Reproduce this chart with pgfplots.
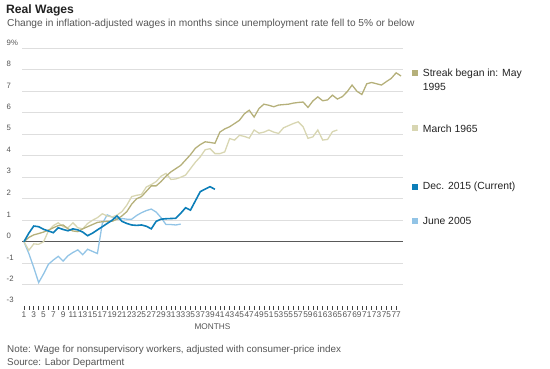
\documentclass[border=0pt]{standalone}
\usepackage{fontspec}
\setmainfont{Liberation Sans}
\usepackage{pgfplots}
\pgfplotsset{compat=1.18}
\definecolor{streak}{RGB}{181,176,122}
\definecolor{march}{RGB}{216,214,178}
\definecolor{decb}{RGB}{12,126,184}
\definecolor{june}{RGB}{146,196,230}
\definecolor{txt}{RGB}{85,85,85}
\definecolor{ttl}{RGB}{34,34,34}
\begin{document}
\begin{tikzpicture}[x=1bp,y=1bp]
\useasboundingbox (0,0) rectangle (550,368);
\node[anchor=base west, inner sep=0pt, text=ttl, font=\fontsize{12.2}{13}\selectfont\bfseries] at (6,354.5) {Real Wages};
\node[anchor=base west, inner sep=0pt, text=txt, font=\fontsize{10.2}{11}\selectfont] at (7,342) {Change in inflation-adjusted wages in months since unemployment rate fell to 5\% or below};
\begin{axis}[
  at={(22bp,61.8bp)}, anchor=south west,
  width=381bp, height=257.9bp, scale only axis,
  xmin=0.6, xmax=78.4, ymin=-3, ymax=9,
  axis line style={draw=none},
  clip=false,
  xtick={1,3,...,77}, minor xtick={2,4,...,76},
  xtick pos=bottom, tick align=outside,
  major tick length=3.5bp, minor tick length=3.5bp,
  x tick style={black!75, line width=0.6bp},
  minor x tick style={black!75, line width=0.6bp},
  xticklabel style={font=\fontsize{8.3}{8}\selectfont, text=txt, inner sep=0pt, yshift=-2bp},
  /pgf/number format/assume math mode=true,
  ytick={-2,-1,0,1,2,3,4,5,6,7,8,9},
  yticklabels={-2,-1,0,1,2,3,4,5,6,7,8,9\%},
  extra y ticks={-3}, extra y tick labels={-3},
  extra y tick style={grid=none},
  ytick style={draw=none},
  ymajorgrids, grid style={black!13, line width=0.6bp},
  yticklabel style={font=\fontsize{7.8}{8}\selectfont, text=txt, inner sep=0pt, anchor=south west, xshift=-12bp, yshift=3bp},
  xlabel={MONTHS}, xlabel style={font=\fontsize{8.3}{8}\selectfont, text=txt, inner sep=0pt, at={(axis description cs:0.5,0)}, anchor=center, yshift=-20.5bp},
]
\addplot[black!65, line width=0.9bp, mark=none] coordinates {(0.6,0) (78.4,0)};
\addplot[june, line width=1.3bp, mark=none] coordinates {
(1,0) (2,-0.55) (3,-1.2) (4,-1.9) (5,-1.5) (6,-1.05) (7,-0.85) (8,-0.68) (9,-0.9) (10,-0.65)
(11,-0.5) (12,-0.38) (13,-0.6) (14,-0.35) (15,-0.45) (16,-0.55) (17,0.85) (18,1.25) (19,1.15) (20,1.05)
(21,1.08) (22,1.05) (23,1.05) (24,1.22) (25,1.35) (26,1.45) (27,1.52) (28,1.38) (29,1.12) (30,0.8)
(31,0.8) (32,0.78) (33,0.82)};
\addplot[march, line width=1.3bp, mark=none] coordinates {
(1,0) (2,-0.4) (3,-0.1) (4,-0.12) (5,0) (6,0.5) (7,0.75) (8,0.88) (9,0.7) (10,0.65)
(11,0.88) (12,0.65) (13,0.6) (14,0.85) (15,1.0) (16,1.12) (17,1.3) (18,1.2) (19,1.15) (20,1.24)
(21,1.4) (22,1.7) (23,2.1) (24,2.16) (25,2.2) (26,2.55) (27,2.66) (28,2.8) (29,3.05) (30,3.18)
(31,2.9) (32,2.92) (33,3.0) (34,3.1) (35,3.4) (36,3.7) (37,3.95) (38,4.28) (39,4.33) (40,4.1)
(41,4.1) (42,4.18) (43,4.8) (44,4.73) (45,4.95) (46,4.9) (47,4.82) (48,5.2) (49,5.05) (50,5.1)
(51,5.2) (52,5.1) (53,5.04) (54,5.3) (55,5.4) (56,5.5) (57,5.58) (58,5.35) (59,4.81) (60,4.88)
(61,5.2) (62,4.73) (63,4.76) (64,5.12) (65,5.2)};
\addplot[streak, line width=1.3bp, mark=none] coordinates {
(1,0) (2,0.2) (3,0.32) (4,0.38) (5,0.45) (6,0.54) (7,0.65) (8,0.75) (9,0.78) (10,0.6)
(11,0.5) (12,0.47) (13,0.6) (14,0.7) (15,0.8) (16,0.9) (17,0.93) (18,0.95) (19,0.95) (20,1.05)
(21,1.2) (22,1.4) (23,1.75) (24,2.0) (25,2.1) (26,2.35) (27,2.6) (28,2.6) (29,2.8) (30,3.05)
(31,3.25) (32,3.4) (33,3.55) (34,3.8) (35,4.05) (36,4.35) (37,4.52) (38,4.65) (39,4.62) (40,4.58)
(41,5.1) (42,5.25) (43,5.35) (44,5.5) (45,5.65) (46,5.95) (47,6.12) (48,5.8) (49,6.2) (50,6.4)
(51,6.35) (52,6.28) (53,6.36) (54,6.38) (55,6.4) (56,6.45) (57,6.48) (58,6.5) (59,6.25) (60,6.55)
(61,6.74) (62,6.56) (63,6.6) (64,6.82) (65,6.64) (66,6.75) (67,6.98) (68,7.29) (69,7.0) (70,6.85)
(71,7.35) (72,7.41) (73,7.35) (74,7.29) (75,7.45) (76,7.6) (77,7.86) (78,7.71)};
\addplot[decb, line width=1.6bp, mark=none] coordinates {
(1,0) (2,0.4) (3,0.73) (4,0.7) (5,0.58) (6,0.5) (7,0.42) (8,0.65) (9,0.57) (10,0.51)
(11,0.6) (12,0.55) (13,0.45) (14,0.28) (15,0.4) (16,0.55) (17,0.7) (18,0.85) (19,1.0) (20,1.2)
(21,0.95) (22,0.85) (23,0.78) (24,0.76) (25,0.78) (26,0.72) (27,0.6) (28,0.95) (29,1.05) (30,1.07)
(31,1.08) (32,1.09) (33,1.32) (34,1.58) (35,1.47) (36,1.9) (37,2.33) (38,2.45) (39,2.56) (40,2.44)};
\end{axis}
\begin{scope}[every node/.style={anchor=west, inner sep=0pt, text=ttl, font=\fontsize{10.4}{12}\selectfont}]
\node[anchor=center] at (415,294.7) {\textcolor{streak}{\rule{6bp}{6bp}}};
\node at (422.7,293.7) {Streak began in: May};
\node at (422.7,281.3) {1995};
\node[anchor=center] at (415,239.7) {\textcolor{march}{\rule{6bp}{6bp}}};
\node at (422.7,239.7) {March 1965};
\node[anchor=center] at (415,180.7) {\textcolor{decb}{\rule{6bp}{6bp}}};
\node at (422.7,180.7) {Dec. 2015 (Current)};
\node[anchor=center] at (415,147) {\textcolor{june}{\rule{6bp}{6bp}}};
\node at (422.7,147) {June 2005};
\end{scope}
\node[anchor=base west, inner sep=0pt, text=txt, font=\fontsize{9.9}{10}\selectfont] at (7,15.5) {Note: Wage for nonsupervisory workers, adjusted with consumer-price index};
\node[anchor=base west, inner sep=0pt, text=txt, font=\fontsize{9.9}{10}\selectfont] at (7,3) {Source: Labor Department};
\end{tikzpicture}
\end{document}
